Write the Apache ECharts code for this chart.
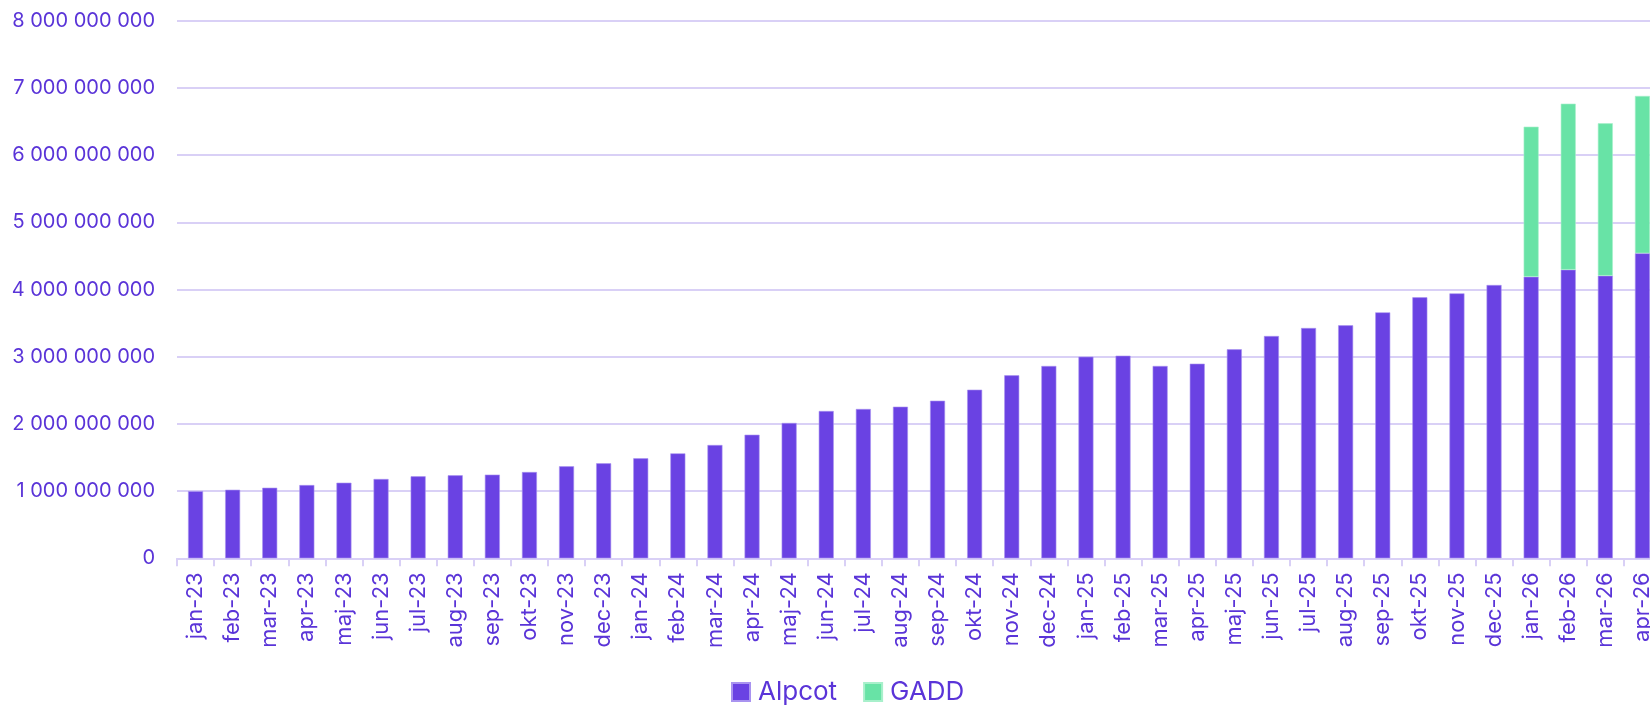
<!DOCTYPE html>
<html>
<head>
<meta charset="utf-8">
<script src="https://cdn.jsdelivr.net/npm/echarts@6/dist/echarts.min.js"></script>
<style>
html,body{margin:0;padding:0;background:#fff;overflow:hidden;}
#chart{width:1661px;height:707px;}
</style>
</head>
<body>
<div id="chart"></div>
<script>
const categories = ["jan-23","feb-23","mar-23","apr-23","maj-23","jun-23","jul-23","aug-23","sep-23","okt-23","nov-23","dec-23",
  "jan-24","feb-24","mar-24","apr-24","maj-24","jun-24","jul-24","aug-24","sep-24","okt-24","nov-24","dec-24",
  "jan-25","feb-25","mar-25","apr-25","maj-25","jun-25","jul-25","aug-25","sep-25","okt-25","nov-25","dec-25",
  "jan-26","feb-26","mar-26","apr-26"];
const alpcot = [1.00,1.02,1.05,1.09,1.125,1.18,1.22,1.235,1.245,1.284,1.369,1.414,
  1.488,1.562,1.686,1.839,2.014,2.192,2.222,2.256,2.345,2.509,2.723,2.862,
  3.000,3.015,2.862,2.896,3.110,3.308,3.427,3.467,3.660,3.884,3.943,4.067,
  4.190,4.295,4.205,4.539].map(v => Math.round(v * 1e9));
const gadd = [null,null,null,null,null,null,null,null,null,null,null,null,
  null,null,null,null,null,null,null,null,null,null,null,null,
  null,null,null,null,null,null,null,null,null,null,null,null,
  2.233,2.470,2.268,2.341].map(v => v == null ? null : Math.round(v * 1e9));
const yTicks = { min: 0, max: 8e9, interval: 1e9 };

const textColor = '#5a34d8';
const gridColor = '#d9d0f6';
const fontFamily = 'Inter, "Noto Sans", sans-serif';

function fmt(v) {
  return String(Math.round(v)).replace(/\B(?=(\d{3})+(?!\d))/g, ' ');
}

const chart = echarts.init(document.getElementById('chart'), null, { renderer: 'canvas' });
chart.setOption({
  animation: false,
  backgroundColor: '#ffffff',
  textStyle: { fontFamily: fontFamily },
  grid: { left: 177, right: 0, top: 20.7, bottom: 148.7 },
  legend: {
    data: ['Alpcot', 'GADD'],
    left: 731, top: 679, padding: 0,
    icon: 'rect', itemWidth: 18, itemHeight: 18, itemGap: 26,
    textStyle: { color: textColor, fontSize: 26, fontFamily: fontFamily, padding: [0, 0, 0, 3] }
  },
  xAxis: {
    type: 'category',
    data: categories,
    axisLine: { show: true, lineStyle: { color: gridColor, width: 2 } },
    axisTick: { show: true, length: 8, lineStyle: { color: gridColor, width: 2 } },
    axisLabel: { rotate: 90, color: textColor, fontSize: 22, margin: 14, interval: 0, fontFamily: fontFamily }
  },
  yAxis: {
    type: 'value',
    min: yTicks.min, max: yTicks.max, interval: yTicks.interval,
    axisLine: { show: false },
    axisTick: { show: false },
    splitLine: { show: true, lineStyle: { color: gridColor, width: 2 } },
    axisLabel: { color: textColor, fontSize: 20, margin: 22, formatter: fmt, fontFamily: fontFamily }
  },
  series: [
    {
      name: 'Alpcot', type: 'bar', stack: 'total', data: alpcot, barWidth: 15,
      itemStyle: { color: '#6a42e3', borderColor: '#a993f0', borderWidth: 0.6 }
    },
    {
      name: 'GADD', type: 'bar', stack: 'total', data: gadd, barWidth: 15,
      itemStyle: { color: '#68e3a6', borderColor: '#a8f0cb', borderWidth: 0.6 }
    }
  ]
});
</script>
</body>
</html>
